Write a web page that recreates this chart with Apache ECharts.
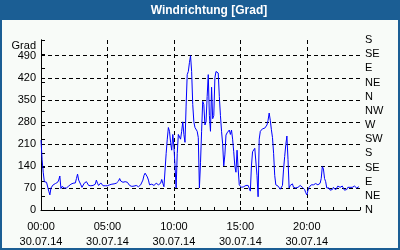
<!DOCTYPE html>
<html><head><meta charset="utf-8">
<script src="https://cdn.jsdelivr.net/npm/echarts@6/dist/echarts.min.js"></script>
<style>html,body{margin:0;padding:0;background:#f8fbf8}#c{width:400px;height:250px}</style>
</head><body><div id="c"></div>
<script>
// Chart data (values every 5 minutes, 30.07.14 00:00 - 23:55)
const titleText = 'Windrichtung [Grad]';
const yAxisName = 'Grad';
const dateLabel = '30.07.14';
const stepMinutes = 5;
const leftTicks = [0, 70, 140, 210, 280, 350, 420, 490];
const compassLabels = ['N','NE','E','SE','S','SW','W','NW','N','NE','E','SE','S'];
const xTickHours = [0, 5, 10, 15, 20];
const windDir = [
 222,160,120,90,88,88,85,60,48,70,75,80,
 82,84,86,88,95,108,68,75,72,70,73,70,
 72,76,80,82,85,85,85,86,100,114,95,90,
 80,72,78,85,88,90,84,78,76,77,76,78,
 75,82,95,85,78,82,86,80,77,76,77,78,
 77,78,80,82,82,82,83,84,85,88,92,100,
 92,95,88,90,90,91,88,82,78,76,75,74,
 76,78,78,76,74,78,80,82,95,110,117,112,
 105,95,80,76,82,86,78,74,85,90,80,74,
 85,97,85,74,80,180,225,262,250,215,190,240,
 200,140,70,180,240,244,225,250,280,240,215,330,
 430,440,468,490,440,335,280,262,258,250,230,70,
 150,250,345,335,270,280,360,430,300,250,390,290,
 300,420,440,445,435,360,300,250,210,140,175,238,
 245,250,254,240,254,225,185,140,120,190,130,80,
 74,72,70,74,76,78,80,78,72,60,140,185,
 190,196,195,110,42,225,250,254,258,255,260,255,
 270,285,308,285,255,230,180,110,80,75,76,72,
 66,63,78,130,170,207,235,160,70,78,82,83,
 72,78,70,74,72,70,78,84,72,70,65,55,
 48,62,72,76,80,82,80,82,84,88,80,76,
 85,100,138,130,100,90,70,72,70,63,58,65,
 72,70,64,70,76,74,72,74,76,70,63,58,
 65,72,70,72,74,72,74,76,76,70,72,74
];

const seriesData = windDir.map((v, i) => [i * stepMinutes / 60, v]);
const pad = n => (n < 10 ? '0' : '') + n;
const font = 'Liberation Sans, Arial, sans-serif';
const blue = '#1b5e94';

const chart = echarts.init(document.getElementById('c'), null, {renderer: 'canvas'});
chart.setOption({
  animation: false,
  backgroundColor: '#f8fbf8',
  grid: {left: 41, right: 40, top: 40, bottom: 40, containLabel: false},
  xAxis: [{
    type: 'value', min: 0, max: 24, interval: 5,
    axisLine: {show: true, lineStyle: {color: '#000', width: 1}},
    axisTick: {show: false},
    axisLabel: {
      showMaxLabel: false, margin: 9, color: '#000', fontFamily: font, fontSize: 11, lineHeight: 15,
      formatter: v => xTickHours.includes(v) ? pad(v) + ':00\n' + dateLabel : ''
    },
    splitLine: {show: true, showMinLine: false, showMaxLine: false, lineStyle: {color: '#000', type: [4, 3], width: 1}}
  }, {
    type: 'value', min: 0, max: 24, interval: 1, position: 'bottom',
    axisLine: {show: false},
    axisTick: {show: true, inside: true, length: 3, lineStyle: {color: '#000'}},
    axisLabel: {show: false},
    splitLine: {show: false}
  }],
  yAxis: [{
    type: 'value', min: 0, max: 540, interval: 70, position: 'left',
    axisLine: {show: true, lineStyle: {color: '#000'}},
    axisTick: {show: false},
    axisLabel: {showMaxLabel: false, margin: 5, color: '#000', fontFamily: font, fontSize: 11,
      formatter: v => leftTicks.includes(v) ? String(v) : ''},
    splitLine: {show: true, showMinLine: false, showMaxLine: false, lineStyle: {color: '#000', type: [4, 3], width: 1}}
  }, {
    type: 'value', min: 0, max: 540, interval: 45, position: 'right',
    axisLine: {show: true, lineStyle: {color: '#000'}},
    axisTick: {show: true, length: 4, lineStyle: {color: '#000'}},
    axisLabel: {margin: 5, color: '#000', fontFamily: font, fontSize: 11,
      formatter: v => compassLabels[Math.round(v / 45)] || ''},
    splitLine: {show: false}
  }],
  series: [{
    type: 'line', xAxisIndex: 0, yAxisIndex: 0, data: seriesData,
    showSymbol: false, symbol: 'none',
    lineStyle: {color: '#0000ff', width: 1}
  }],
  graphic: [
    {type: 'rect', shape: {x: 0, y: 0, width: 400, height: 20}, style: {fill: blue}, z: 10},
    {type: 'rect', shape: {x: 1, y: 1, width: 398, height: 248}, style: {fill: 'none', stroke: blue, lineWidth: 2}, z: 10},
    {type: 'text', x: 209, y: 11, z: 11,
      style: {text: titleText, fill: '#fff', font: 'bold 12px ' + font, textAlign: 'center', textVerticalAlign: 'middle'}},
    {type: 'text', x: 36, y: 46, z: 11,
      style: {text: yAxisName, fill: '#000', font: '11px ' + font, textAlign: 'right', textVerticalAlign: 'middle'}}
  ]
});
</script></body></html>
